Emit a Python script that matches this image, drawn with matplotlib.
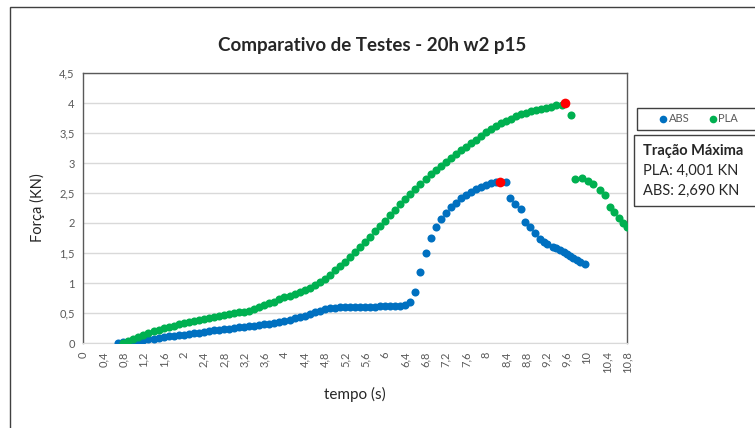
import matplotlib
matplotlib.use("Agg")
import matplotlib.pyplot as plt
from matplotlib.patches import Rectangle
from matplotlib.lines import Line2D

plt.rcParams['font.family'] = ['Lato', 'DejaVu Sans']

# --- data ---
abs_t = [0.7, 0.8, 0.9, 1.0, 1.1, 1.2, 1.3, 1.4, 1.5, 1.6, 1.7, 1.8, 1.9, 2.0,
         2.1, 2.2, 2.3, 2.4, 2.5, 2.6, 2.7, 2.8, 2.9, 3.0, 3.1, 3.2, 3.3, 3.4,
         3.5, 3.6, 3.7, 3.8, 3.9, 4.0, 4.1, 4.2, 4.3, 4.4, 4.5, 4.6, 4.7, 4.8,
         4.9, 5.0, 5.1, 5.2, 5.3, 5.4, 5.5, 5.6, 5.7, 5.8, 5.9, 6.0, 6.1, 6.2,
         6.3, 6.4, 6.5, 6.6, 6.7, 6.8, 6.9, 7.0, 7.1, 7.2, 7.3, 7.4, 7.5, 7.6,
         7.7, 7.8, 7.9, 8.0, 8.1, 8.2, 8.4, 8.48, 8.58, 8.7, 8.77, 8.87, 8.97,
         9.07, 9.15, 9.21, 9.33, 9.4, 9.47, 9.55, 9.6, 9.67, 9.73, 9.8, 9.87, 9.97]
abs_f = [0.0, 0.01, 0.02, 0.03, 0.04, 0.05, 0.06, 0.07, 0.08, 0.1, 0.11, 0.12, 0.13, 0.14,
         0.15, 0.16, 0.17, 0.19, 0.2, 0.21, 0.22, 0.23, 0.24, 0.25, 0.26, 0.27, 0.28, 0.29,
         0.3, 0.31, 0.32, 0.34, 0.35, 0.37, 0.39, 0.41, 0.43, 0.45, 0.48, 0.51, 0.54, 0.56,
         0.58, 0.59, 0.6, 0.6, 0.6, 0.6, 0.6, 0.6, 0.6, 0.6, 0.61, 0.61, 0.62, 0.62,
         0.62, 0.64, 0.68, 0.85, 1.18, 1.5, 1.75, 1.93, 2.07, 2.17, 2.26, 2.34, 2.41, 2.47,
         2.52, 2.56, 2.6, 2.63, 2.66, 2.68, 2.68, 2.42, 2.32, 2.23, 2.02, 1.93, 1.83,
         1.73, 1.68, 1.65, 1.6, 1.58, 1.55, 1.51, 1.48, 1.45, 1.42, 1.38, 1.35, 1.31]

pla_t = [0.8, 0.9, 1.0, 1.1, 1.2, 1.3, 1.4, 1.5, 1.6, 1.7, 1.8, 1.9, 2.0, 2.1,
         2.2, 2.3, 2.4, 2.5, 2.6, 2.7, 2.8, 2.9, 3.0, 3.1, 3.2, 3.3, 3.4, 3.5,
         3.6, 3.7, 3.8, 3.9, 4.0, 4.1, 4.2, 4.3, 4.4, 4.5, 4.6, 4.7, 4.8, 4.9,
         5.0, 5.1, 5.2, 5.3, 5.4, 5.5, 5.6, 5.7, 5.8, 5.9, 6.0, 6.1, 6.2, 6.3,
         6.4, 6.5, 6.6, 6.7, 6.8, 6.9, 7.0, 7.1, 7.2, 7.3, 7.4, 7.5, 7.6, 7.7,
         7.8, 7.9, 8.0, 8.1, 8.2, 8.3, 8.4, 8.5, 8.6, 8.7, 8.8, 8.9, 9.0, 9.1,
         9.2, 9.3, 9.4, 9.5, 9.68,
         9.77, 9.91, 10.03, 10.13, 10.26, 10.36, 10.46, 10.54, 10.64, 10.72, 10.8]
pla_f = [0.0, 0.03, 0.06, 0.1, 0.13, 0.17, 0.2, 0.22, 0.25, 0.27, 0.29, 0.31, 0.33, 0.35,
         0.37, 0.38, 0.4, 0.42, 0.43, 0.45, 0.46, 0.48, 0.5, 0.51, 0.52, 0.54, 0.57, 0.6,
         0.63, 0.66, 0.69, 0.73, 0.76, 0.79, 0.82, 0.85, 0.88, 0.92, 0.96, 1.01, 1.07, 1.14,
         1.21, 1.28, 1.35, 1.43, 1.51, 1.6, 1.69, 1.77, 1.86, 1.95, 2.04, 2.13, 2.22, 2.31,
         2.4, 2.49, 2.57, 2.65, 2.73, 2.81, 2.88, 2.95, 3.02, 3.09, 3.15, 3.21, 3.27, 3.33,
         3.39, 3.45, 3.51, 3.56, 3.61, 3.66, 3.7, 3.74, 3.78, 3.81, 3.84, 3.86, 3.88, 3.9,
         3.92, 3.94, 3.96, 3.97, 3.8,
         2.73, 2.75, 2.7, 2.65, 2.55, 2.47, 2.27, 2.18, 2.08, 2.0, 1.93]

max_t = [8.28, 9.57]
max_f = [2.69, 4.001]

x_ticks = [0, 0.4, 0.8, 1.2, 1.6, 2, 2.4, 2.8, 3.2, 3.6, 4, 4.4, 4.8, 5.2,
           5.6, 6, 6.4, 6.8, 7.2, 7.6, 8, 8.4, 8.8, 9.2, 9.6, 10, 10.4, 10.8]
x_labels = ['0', '0,4', '0,8', '1,2', '1,6', '2', '2,4', '2,8', '3,2', '3,6', '4', '4,4',
            '4,8', '5,2', '5,6', '6', '6,4', '6,8', '7,2', '7,6', '8', '8,4', '8,8',
            '9,2', '9,6', '10', '10,4', '10,8']
y_ticks = [0, 0.5, 1, 1.5, 2, 2.5, 3, 3.5, 4, 4.5]
y_labels = ['0', '0,5', '1', '1,5', '2', '2,5', '3', '3,5', '4', '4,5']

blue = '#0070C0'
green = '#00B050'
red = '#FF0000'
W, H = 755, 428

fig = plt.figure(figsize=(W / 100, H / 100), dpi=100)
ax = fig.add_axes([83 / W, 1 - 343 / H, (627 - 83) / W, (343 - 73) / H])

ax.plot(abs_t, abs_f, 'o', color=blue, ms=5.8, mew=0, zorder=3)
ax.plot(pla_t, pla_f, 'o', color=green, ms=5.8, mew=0, zorder=4)
ax.plot(max_t, max_f, 'o', color=red, ms=7, mew=0, zorder=5)

ax.set_xlim(0, 10.8)
ax.set_ylim(0, 4.5)
ax.set_xticks(x_ticks)
ax.set_xticklabels(x_labels, rotation=90, va='top', ha='center')
ax.set_yticks(y_ticks)
ax.set_yticklabels(y_labels)
ax.tick_params(length=0, labelsize=8, colors='#595959', pad=6)
ax.grid(axis='y', color='#D9D9D9', lw=1)
ax.set_axisbelow(True)
for s in ['left', 'top', 'right']:
    ax.spines[s].set_color('#595959')
    ax.spines[s].set_linewidth(1)
ax.spines['bottom'].set_color('#D9D9D9')

ax.set_xlabel('tempo (s)', fontsize=11, color='#262626', labelpad=10)
ax.set_ylabel('Força (KN)', fontsize=10.5, color='#262626', labelpad=10)
fig.text(372 / W, 1 - 45 / H, 'Comparativo de Testes - 20h w2 p15', ha='center',
         va='center', fontsize=13.5, fontweight='bold', color='#262626')

# outer chart border
fig.patches.append(Rectangle((10 / W, -0.1), 1, 1 - 7 / H + 0.1, transform=fig.transFigure,
                             fill=False, ec='#404040', lw=1))

# legend box
fig.patches.append(Rectangle((637 / W, 1 - 130 / H), 0.5, 22 / H, transform=fig.transFigure,
                             fill=False, ec='#404040', lw=1))
handles = [Line2D([], [], ls='none', marker='o', color=blue, ms=5.5, mew=0),
           Line2D([], [], ls='none', marker='o', color=green, ms=5.5, mew=0)]
fig.legend(handles, ['ABS', 'PLA'], loc='center left', bbox_to_anchor=(652 / W, 1 - 119 / H),
           ncol=2, frameon=False, fontsize=8, handletextpad=0.0, columnspacing=1.6,
           handlelength=1.0, labelcolor='#595959', borderpad=0)

# max traction box
fig.patches.append(Rectangle((634 / W, 1 - 206 / H), 0.5, 71 / H, transform=fig.transFigure,
                             fill=False, ec='#404040', lw=1))
fig.text(643 / W, 1 - 151 / H, 'Tração Máxima', fontsize=10.5, fontweight='bold',
         va='center', color='#262626')
fig.text(643 / W, 1 - 171 / H, 'PLA: 4,001 KN', fontsize=10.5, va='center', color='#262626')
fig.text(643 / W, 1 - 191 / H, 'ABS: 2,690 KN', fontsize=10.5, va='center', color='#262626')

fig.savefig('out.png', dpi=100)
